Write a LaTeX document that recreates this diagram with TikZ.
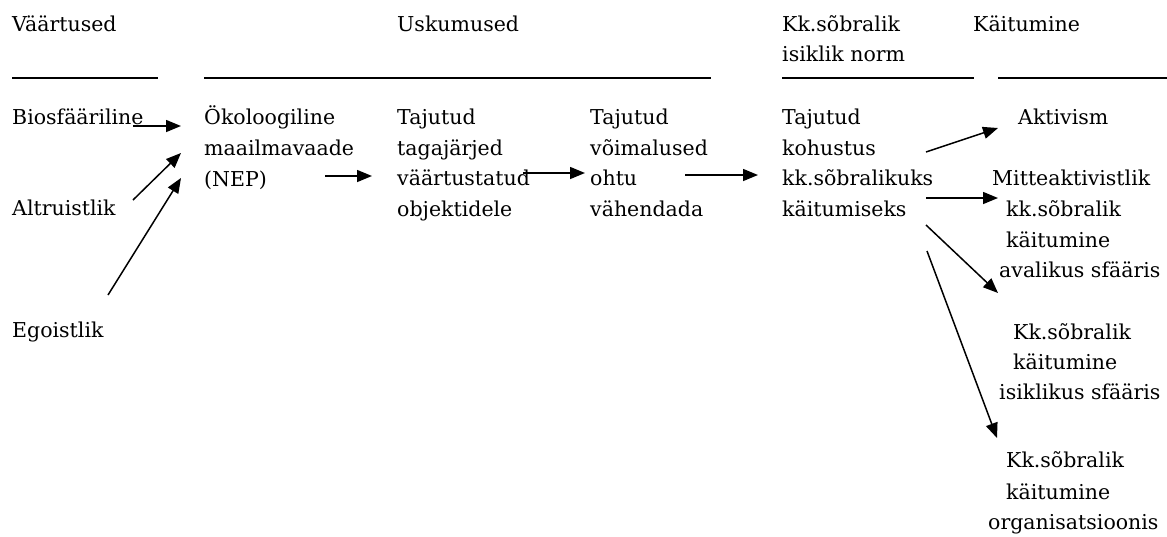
\documentclass[tikz,border=0pt]{standalone}
\usepackage{fontspec}
\setmainfont{DejaVu Serif}
\usetikzlibrary{arrows.meta}
\begin{document}
\begin{tikzpicture}[x=1pt,y=-1pt,
  txt/.style={anchor=base west,inner sep=0pt,font=\fontsize{20.5}{31}\selectfont},
  rulel/.style={line width=1.8pt},
  arr/.style={line width=1.5pt,-{Triangle[length=15pt,width=12pt]}}]
\useasboundingbox (0,0) rectangle (1167,536);
% headers
\node[txt] (hV) at (12,31) {Väärtused};
\node[txt] (hU) at (397,31) {Uskumused};
\node[txt] (hN1) at (782,31) {Kk.sõbralik};
\node[txt] (hN2) at (782,61) {isiklik norm};
\node[txt] (hK) at (973,31) {Käitumine};
% rules
\coordinate (r1a) at (12,78); \coordinate (r1b) at (158,78);
\coordinate (r2a) at (204,78); \coordinate (r2b) at (711,78);
\coordinate (r3a) at (782,78); \coordinate (r3b) at (974,78);
\coordinate (r4a) at (998,78); \coordinate (r4b) at (1167,78);
\draw[rulel] (r1a) -- (r1b);
\draw[rulel] (r2a) -- (r2b);
\draw[rulel] (r3a) -- (r3b);
\draw[rulel] (r4a) -- (r4b);
% values
\node[txt] (bio) at (12,124) {Biosfääriline};
\node[txt] (alt) at (12,215) {Altruistlik};
\node[txt] (ego) at (12,337) {Egoistlik};
% NEP
\node[txt] (nep1) at (204,124) {Ökoloogiline};
\node[txt] (nep2) at (204,155) {maailmavaade};
\node[txt] (nep3) at (204,186) {(NEP)};
% consequences
\node[txt] (tc1) at (397,124) {Tajutud};
\node[txt] (tc2) at (397,155) {tagajärjed};
\node[txt] (tc3) at (397,185) {väärtustatud};
\node[txt] (tc4) at (397,216) {objektidele};
% ability
\node[txt] (ta1) at (590,124) {Tajutud};
\node[txt] (ta2) at (590,155) {võimalused};
\node[txt] (ta3) at (590,185) {ohtu};
\node[txt] (ta4) at (590,216) {vähendada};
% norm
\node[txt] (no1) at (782,124) {Tajutud};
\node[txt] (no2) at (782,155) {kohustus};
\node[txt] (no3) at (782,185) {kk.sõbralikuks};
\node[txt] (no4) at (782,216) {käitumiseks};
% behaviours
\node[txt] (ak) at (1018,124) {Aktivism};
\node[txt] (mi1) at (992,185) {Mitteaktivistlik};
\node[txt] (mi2) at (1006,216) {kk.sõbralik};
\node[txt] (mi3) at (1006,247) {käitumine};
\node[txt] (mi4) at (999,277) {avalikus sfääris};
\node[txt] (is1) at (1013,339) {Kk.sõbralik};
\node[txt] (is2) at (1013,369) {käitumine};
\node[txt] (is3) at (999,399) {isiklikus sfääris};
\node[txt] (or1) at (1006,467) {Kk.sõbralik};
\node[txt] (or2) at (1006,499) {käitumine};
\node[txt] (or3) at (988,529) {organisatsioonis};
% arrow end points
\coordinate (a1s) at (133,126); \coordinate (a1e) at (181,126);
\coordinate (a2s) at (133,200); \coordinate (a2e) at (181,153);
\coordinate (a3s) at (108,295); \coordinate (a3e) at (181,178);
\coordinate (a4s) at (325,176); \coordinate (a4e) at (372,176);
\coordinate (a5s) at (523,173); \coordinate (a5e) at (585,173);
\coordinate (a6s) at (685,175); \coordinate (a6e) at (758,175);
\coordinate (a7s) at (926,152); \coordinate (a7e) at (998,128);
\coordinate (a8s) at (926,198); \coordinate (a8e) at (998,198);
\coordinate (a9s) at (926,225); \coordinate (a9e) at (998,293);
\coordinate (a10s) at (927,251); \coordinate (a10e) at (997,438);
\draw[arr] (a1s) -- (a1e);
\draw[arr] (a2s) -- (a2e);
\draw[arr] (a3s) -- (a3e);
\draw[arr] (a4s) -- (a4e);
\draw[arr] (a5s) -- (a5e);
\draw[arr] (a6s) -- (a6e);
\draw[arr] (a7s) -- (a7e);
\draw[arr] (a8s) -- (a8e);
\draw[arr] (a9s) -- (a9e);
\draw[arr] (a10s) -- (a10e);
\end{tikzpicture}
\end{document}
